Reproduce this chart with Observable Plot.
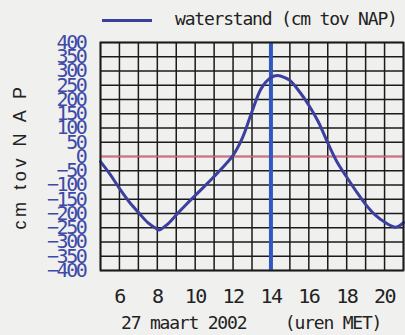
<!DOCTYPE html>
<html><head><meta charset="utf-8">
<script src="https://cdn.jsdelivr.net/npm/d3@7"></script>
<script src="https://cdn.jsdelivr.net/npm/@observablehq/plot@0.6"></script>
<style>
html,body{margin:0;padding:0;background:#f0f0ee;width:405px;height:335px;overflow:hidden}
#legend{position:relative;height:38px;}
#legend .sw{position:absolute;left:102px;top:19px;width:50px;height:3px;background:#3b3f9e}
#legend .lab{position:absolute;left:175px;top:8px;line-height:22px;font-family:"DejaVu Sans Mono",monospace;font-size:18px;letter-spacing:-1.2px;color:#222;white-space:pre}
#chart{height:272px}
#chart svg{display:block}
#caption{position:relative;height:25px}
#caption span{position:absolute;left:121px;top:2px;line-height:22px;font-family:"DejaVu Sans Mono",monospace;font-size:18px;letter-spacing:-1.2px;color:#222;white-space:pre}
</style></head><body>
<div id="legend"><span class="sw"></span><span class="lab" id="legendText"></span></div>
<div id="chart"></div>
<div id="caption"><span id="captionText"></span></div>
<script>
// data
const hours  = [5, 5.5, 6, 6.5, 7, 7.5, 8, 8.1, 8.5, 9, 9.5, 10, 10.5, 11, 11.5, 12, 12.5, 13, 13.5, 14, 14.35, 14.7, 15, 15.5, 16, 16.5, 17, 17.5, 18, 18.5, 19, 19.5, 20, 20.6, 21];
const levels = [-18, -62, -112, -158, -196, -232, -255, -258, -240, -205, -170, -137, -104, -70, -35, 4, 66, 158, 240, 277, 284, 278, 267, 228, 180, 122, 48, -20, -72, -122, -168, -205, -230, -248, -232];
const xTicks = [6, 8, 10, 12, 14, 16, 18, 20];
const gridHours = [5, 6, 7, 8, 9, 10, 11, 12, 13, 14, 15, 16, 17, 18, 19, 20, 21];
const yTicks = [-400, -350, -300, -250, -200, -150, -100, -50, 0, 50, 100, 150, 200, 250, 300, 350, 400];
const referenceLevel = [0];
const markerHour = [14];
const legendLabel = "waterstand (cm tov NAP)";
const yLabel = "cm tov N A P";
const xLabel = "27 maart 2002    (uren MET)";

document.getElementById("legendText").textContent = legendLabel;
document.getElementById("captionText").textContent = xLabel;

const data = hours.map((h, i) => ({h, v: levels[i]}));

const chart = Plot.plot({
  width: 405, height: 272,
  marginLeft: 100, marginRight: 2, marginTop: 4, marginBottom: 40,
  style: {background: "transparent", fontFamily: "'DejaVu Sans Mono', monospace", color: "#222", overflow: "visible"},
  x: {domain: [5, 21]},
  y: {domain: [-400, 400]},
  marks: [
    Plot.gridX({ticks: gridHours, stroke: "#1b1b1b", strokeOpacity: 1, strokeWidth: 1.5}),
    Plot.gridY({ticks: yTicks, stroke: "#1b1b1b", strokeOpacity: 1, strokeWidth: 1.5}),
    Plot.ruleY(referenceLevel, {stroke: "#e8687e", strokeWidth: 1.6}),
    Plot.ruleX(markerHour, {stroke: "#3356c0", strokeWidth: 4}),
    Plot.line(data, {x: "h", y: "v", curve: "catmull-rom", stroke: "#3b3f9e", strokeWidth: 3}),
    Plot.frame({stroke: "#1b1b1b", strokeWidth: 1.8}),
    Plot.axisX({ticks: xTicks, tickSize: 0, tickPadding: 18, fontSize: 20, label: null, fill: "#222"}),
    Plot.axisY({ticks: yTicks, tickSize: 0, tickPadding: 15, fontSize: 20, label: null, fill: "#3d4aa8"}),
    Plot.text([yLabel], {text: d => d, frameAnchor: "left", textAnchor: "middle", rotate: -90, dx: -80, fontSize: 18, fontFamily: "'Liberation Sans', Arial, sans-serif", fill: "#222"})
  ]
});
document.getElementById("chart").appendChild(chart);

const svg = d3.select(chart);
svg.selectAll('g[aria-label="x-axis tick label"] text').style("letter-spacing", "-1.5px");
svg.selectAll('g[aria-label="y-axis tick label"] text').style("letter-spacing", "-2.4px");
svg.selectAll('g[aria-label="text"] text').style("letter-spacing", "3.6px");
</script>
</body></html>
